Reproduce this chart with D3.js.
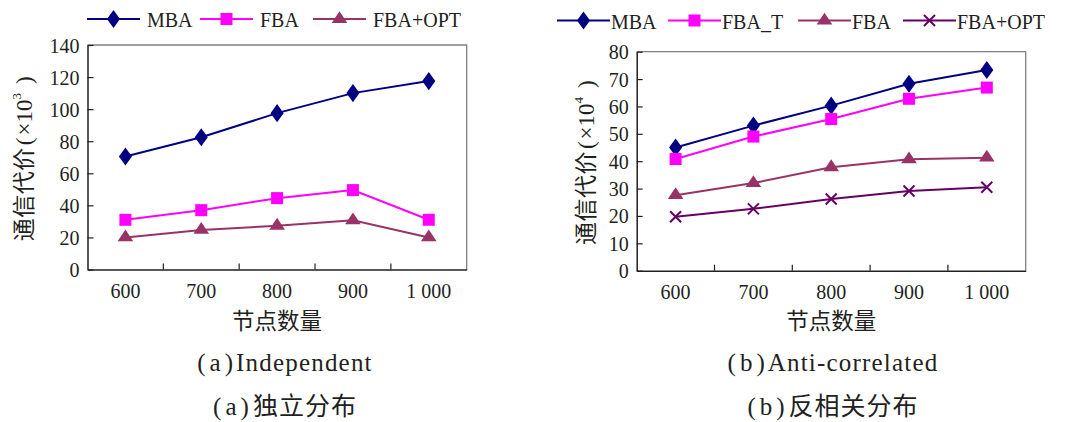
<!DOCTYPE html>
<html><head><meta charset="utf-8">
<script src="https://cdn.jsdelivr.net/npm/d3@7"></script>
<style>
body{margin:0;background:#fff;}
svg{display:block;}
text{fill:#231f20;}
</style></head>
<body>
<svg id="c" width="1073" height="422"></svg>
<script>
const categories = ["600","700","800","900","1 000"];
const leftTicks = [0,20,40,60,80,100,120,140];
const leftMBA = [70.5, 82.5, 97.5, 110, 117.5];
const leftFBA = [31, 37, 44.5, 49.5, 31];
const leftFBAOPT = [20, 24.7, 27.3, 30.7, 20];
const rightTicks = [0,10,20,30,40,50,60,70,80];
const rightMBA = [45, 53, 60.3, 68.3, 73.3];
const rightFBAT = [40.8, 49, 55.4, 62.8, 66.9];
const rightFBA = [27.6, 32, 37.8, 40.7, 41.3];
const rightFBAOPT = [19.7, 22.6, 26.2, 29.1, 30.5];

const svg = d3.select("#c");
const SERIF = "'Liberation Serif', 'Times New Roman', serif";
const CJK = "'Noto Sans CJK SC', sans-serif";

function marker(g, type, color, x, y){
  if(type==="diamond"){
    g.append("path").attr("d", d3.symbol(d3.symbolDiamond, 95)()).attr("transform",`translate(${x},${y}) scale(1.25,1)`).attr("fill",color);
  } else if(type==="square"){
    g.append("rect").attr("x",x-6).attr("y",y-6).attr("width",12).attr("height",12).attr("fill",color);
  } else if(type==="triangle"){
    g.append("path").attr("d", d3.symbol(d3.symbolTriangle, 80)()).attr("transform",`translate(${x},${y}) scale(1.15,1)`).attr("fill",color);
  } else if(type==="x"){
    g.append("path").attr("d",`M${x-5.5},${y-5.5}L${x+5.5},${y+5.5}M${x-5.5},${y+5.5}L${x+5.5},${y-5.5}`).attr("stroke",color).attr("stroke-width",2).attr("fill","none");
  }
}

function richText(g, x, y, parts){
  const t = g.append("text").attr("x",x).attr("y",y).attr("text-anchor","middle");
  parts.forEach(p=>{
    const s = t.append("tspan").style("font-family",p.f).style("font-size",p.s+"px").text(p.t);
    if(p.dx) s.attr("dx",p.dx);
    if(p.ls) s.style("letter-spacing",p.ls+"px");
  });
  return t;
}

function panel(cfg){
  const g = svg.append("g");
  const x = d3.scaleBand().domain(categories).range([cfg.x0,cfg.x1]);
  const y = d3.scaleLinear().domain([0, cfg.ticks[cfg.ticks.length-1]]).range([cfg.y1,cfg.y0]);
  g.append("path").attr("d",`M${cfg.x0},${cfg.y0}H${cfg.x1}V${cfg.y1}`).attr("stroke","#808080").attr("stroke-width",1.3).attr("fill","none");
  const ya = g.append("g").attr("transform",`translate(${cfg.x0},0)`)
    .call(d3.axisLeft(y).tickValues(cfg.ticks).tickSizeInner(-6).tickSizeOuter(0).tickPadding(8));
  ya.select(".domain").attr("stroke","#231f20").attr("stroke-width",1.5);
  ya.selectAll(".tick line").attr("stroke","#231f20").attr("stroke-width",1.2);
  ya.selectAll(".tick text").style("font-family",SERIF).style("font-size","20px").attr("fill","#231f20").attr("dy","0.35em");
  const xa = g.append("g").attr("transform",`translate(0,${cfg.y1})`)
    .call(d3.axisBottom(x).tickSize(0).tickPadding(14));
  xa.select(".domain").attr("stroke","#231f20").attr("stroke-width",1.5);
  xa.selectAll(".tick text").style("font-family",SERIF).style("font-size","20px").attr("fill","#231f20");
  g.selectAll(".xt").data(categories.slice(1)).enter().append("line")
    .attr("x1",d=>x(d)).attr("x2",d=>x(d)).attr("y1",cfg.y1).attr("y2",cfg.y1-6)
    .attr("stroke","#231f20").attr("stroke-width",1.2);
  const line = d3.line().x((d,i)=>x(categories[i])+x.bandwidth()/2).y(d=>y(d));
  cfg.series.forEach(s=>{
    g.append("path").attr("d",line(s.values)).attr("stroke",s.color).attr("stroke-width",2).attr("fill","none");
    s.values.forEach((v,i)=>marker(g,s.marker,s.color,x(categories[i])+x.bandwidth()/2,y(v)));
  });
  cfg.series.forEach((s,i)=>{
    const lx = cfg.legendX[i];
    g.append("line").attr("x1",lx).attr("x2",lx+53).attr("y1",cfg.legendY).attr("y2",cfg.legendY).attr("stroke",s.color).attr("stroke-width",2);
    marker(g,s.marker,s.color,lx+26.5,cfg.legendY);
    g.append("text").attr("x",lx+cfg.legendGap).attr("y",cfg.legendY+8).style("font-family",SERIF).style("font-size","20px").text(s.name);
  });
  const cy = (cfg.y0+cfg.y1)/2 + 1.5;
  const yl = g.append("text").attr("transform",`translate(${cfg.ylx},${cy}) rotate(-90)`).attr("text-anchor","middle")
    .style("font-family",CJK).style("font-size","23px");
  yl.append("tspan").style("letter-spacing","0.5px").text("通信代价");
  yl.append("tspan").style("font-family",SERIF).style("font-size","23px").attr("dx",2).text("(");
  yl.append("tspan").style("font-family",SERIF).style("font-size","23px").attr("dx",2).text("×10");
  yl.append("tspan").style("font-family",SERIF).style("font-size","13px").attr("dy",-11).text(cfg.exp);
  yl.append("tspan").style("font-family",SERIF).style("font-size","23px").attr("dy",11).attr("dx",9).text(")");
  const cx = (cfg.x0+cfg.x1)/2;
  g.append("text").attr("x",cx).attr("y",329).attr("text-anchor","middle").style("font-family",CJK).style("font-size","22.5px").text("节点数量");
  richText(g, cfg.capX, 371, [
    {t:"(", f:SERIF, s:25},
    {t:cfg.tag, f:SERIF, s:25, dx:4},
    {t:")", f:SERIF, s:25, dx:4},
    {t:cfg.capEn, f:SERIF, s:25, dx:3, ls:1.2}
  ]);
  richText(g, cfg.capX, 415, [
    {t:"(", f:SERIF, s:25},
    {t:cfg.tag, f:SERIF, s:25, dx:4},
    {t:")", f:SERIF, s:25, dx:4},
    {t:cfg.capZh, f:CJK, s:25, dx:4, ls:1}
  ]);
}

panel({x0:87.5,x1:466.7,y0:45,y1:269.5,ticks:leftTicks,ylx:32,exp:"3",
  legendY:19,legendX:[87,200,313],legendGap:60,
  capX:285,tag:"a",capEn:"Independent",capZh:"独立分布",
  series:[
    {name:"MBA",values:leftMBA,color:"#000080",marker:"diamond"},
    {name:"FBA",values:leftFBA,color:"#ff00ff",marker:"square"},
    {name:"FBA+OPT",values:leftFBAOPT,color:"#993366",marker:"triangle"}
  ]});
panel({x0:636.7,x1:1025.7,y0:51.7,y1:270.7,ticks:rightTicks,ylx:594,exp:"4",
  legendY:20.5,legendX:[557,668,798,903],legendGap:54,
  capX:833,tag:"b",capEn:"Anti-correlated",capZh:"反相关分布",
  series:[
    {name:"MBA",values:rightMBA,color:"#000080",marker:"diamond"},
    {name:"FBA_T",values:rightFBAT,color:"#ff00ff",marker:"square"},
    {name:"FBA",values:rightFBA,color:"#993366",marker:"triangle"},
    {name:"FBA+OPT",values:rightFBAOPT,color:"#660066",marker:"x"}
  ]});
</script>
</body></html>
